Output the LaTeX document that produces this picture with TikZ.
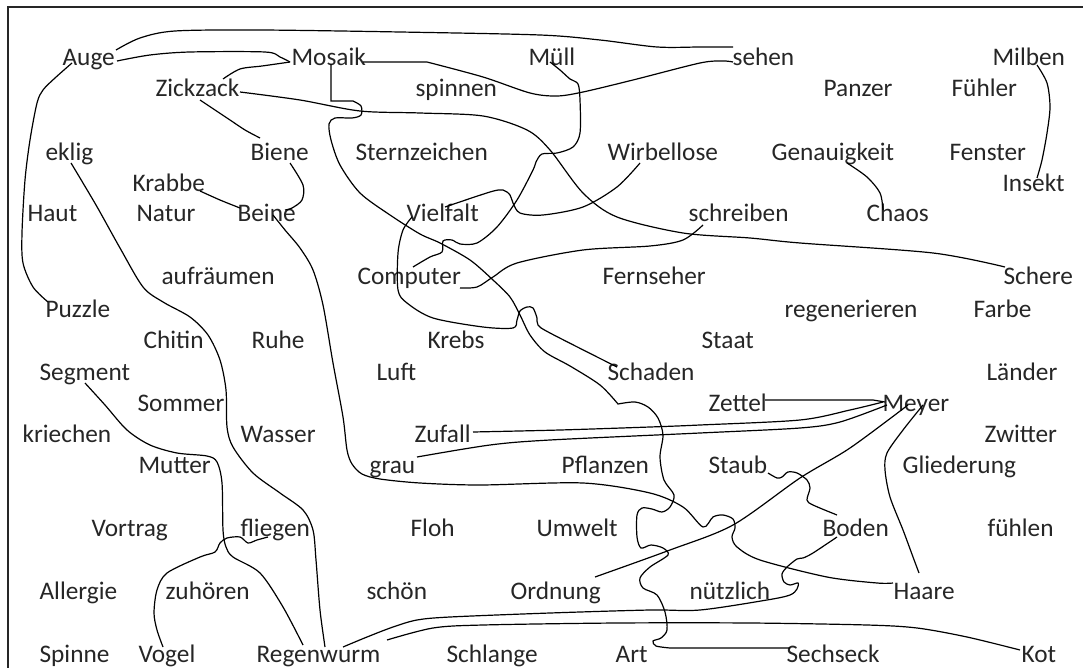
\documentclass[tikz,border=0pt]{standalone}
\usepackage{fontspec}
\setmainfont{Carlito}
\usetikzlibrary{calc}

\begin{document}
\begin{tikzpicture}[x=1pt, y=-1pt, line width=1.2pt, font=\fontsize{25.3}{30}\selectfont,
    every node/.style={anchor=base west, inner sep=0pt, text=black!85}]
\useasboundingbox (0,0) rectangle (1083,668);
\draw[line width=2pt, black!85] (8,668) -- (8,7) -- (1083,7);

\node (auge) at (62,66) {Auge}; \node (mosaik) at (291,66) {Mosaik}; \node (muell) at (528,66) {Müll}; \node (sehen) at (732,66) {sehen}; \node (milben) at (992,66) {Milben};
\node (zickzack) at (155,97) {Zickzack}; \node (spinnen) at (415,97) {spinnen}; \node (panzer) at (823,97) {Panzer}; \node (fuehler) at (951,97) {Fühler};
\node (eklig) at (45,161) {eklig}; \node (biene) at (250,161) {Biene}; \node (sternzeichen) at (355,161) {Sternzeichen}; \node (wirbellose) at (607,161) {Wirbellose}; \node (genauigkeit) at (771,161) {Genauigkeit}; \node (fenster) at (949,161) {Fenster};
\node (krabbe) at (132,192) {Krabbe}; \node (insekt) at (1002,192) {Insekt};
\node (haut) at (27,222) {Haut}; \node (natur) at (136,222) {Natur}; \node (beine) at (237,222) {Beine}; \node (vielfalt) at (406,222) {Vielfalt}; \node (schreiben) at (688,222) {schreiben}; \node (chaos) at (866,222) {Chaos};
\node (aufraeumen) at (161,284) {aufräumen}; \node (computer) at (357,284) {Computer}; \node (fernseher) at (602,284) {Fernseher}; \node (schere) at (1003,284) {Schere};
\node (puzzle) at (45,317) {Puzzle}; \node (regenerieren) at (784,317) {regenerieren}; \node (farbe) at (973,317) {Farbe};
\node (chitin) at (143,348) {Chitin}; \node (ruhe) at (251,348) {Ruhe}; \node (krebs) at (427,348) {Krebs}; \node (staat) at (701,348) {Staat};
\node (segment) at (39,380) {Segment}; \node (luft) at (376,380) {Luft}; \node (schaden) at (607,380) {Schaden}; \node (laender) at (986,380) {Länder};
\node (sommer) at (137,411) {Sommer}; \node (zettel) at (708,411) {Zettel}; \node (meyer) at (882,411) {Meyer};
\node (kriechen) at (22,442) {kriechen}; \node (wasser) at (240,442) {Wasser}; \node (zufall) at (414,442) {Zufall}; \node (zwitter) at (984,442) {Zwitter};
\node (mutter) at (138,473) {Mutter}; \node (grau) at (369,473) {grau}; \node (pflanzen) at (561,473) {Pflanzen}; \node (staub) at (708,473) {Staub}; \node (gliederung) at (902,473) {Gliederung};
\node (vortrag) at (91,536) {Vortrag}; \node (fliegen) at (240,536) {fliegen}; \node (floh) at (410,536) {Floh}; \node (umwelt) at (536,536) {Umwelt}; \node (boden) at (822,536) {Boden}; \node (fuehlen) at (987,536) {fühlen};
\node (allergie) at (39,599) {Allergie}; \node (zuhoeren) at (165,599) {zuhören}; \node (schoen) at (366,599) {schön}; \node (ordnung) at (510,599) {Ordnung}; \node (nuetzlich) at (689,599) {nützlich}; \node (haare) at (893,599) {Haare};
\node (spinne) at (39,662) {Spinne}; \node (vogel) at (138,662) {Vogel}; \node (regenwurm) at (256,662) {Regenwurm}; \node (schlange) at (446,662) {Schlange}; \node (art) at (615,662) {Art}; \node (sechseck) at (786,662) {Sechseck}; \node (kot) at (1021,662) {Kot};

\draw plot[smooth] coordinates {($(auge.base west)+(54,-16)$) (140,38) (175,31) (260,30) (400,32) (540,35) (600,40) (657,47) (700,47) ($(sehen.base west)+(1,-19)$)};
\draw plot[smooth] coordinates {($(auge.base west)+(55,-5)$) (150,55) (190,52) (265,52) (280,57) ($(mosaik.base west)+(-1,-4)$)};
\draw plot[smooth] coordinates {($(zickzack.base west)+(68,-18)$) (240,69) (262,66) ($(mosaik.base west)+(-1,-4)$)};
\draw ($(mosaik.base west)+(40,-2)$) -- (331,101) -- (353,101) -- plot[smooth] coordinates {(353,101) (361,106) (361,115) (352,118) (335,118) (329,124) (331,140) (340,165) (360,193) (390,215) (420,234) (440,243) (470,260) (493,280) (510,297) (520,315) (530,335) (545,352) (570,366) (600,385) (618,404)}
  -- plot[smooth] coordinates {(618,404) (635,402) (648,407) (658,418) (663,435) (660,457) (664,480) (674,495) (670,507) (662,512) (652,509) (642,508) (637,515) (637,537) (641,548) (651,545) (663,548) (668,555) (650,567) (640,578) (643,588) (657,595) (665,612) (667,630) (661,638) (653,641) (656,646) (670,648)} -- ($(sechseck.base west)+(4,-14)$);
\draw plot[smooth] coordinates {($(zickzack.base west)+(85,-5)$) (300,100) (360,111) (420,113) (483,116) (527,130) (550,150) (583,193) (617,217) (683,233) (750,238) (800,243) (933,253) ($(schere.base west)+(2,-17)$)};
\draw plot[smooth] coordinates {($(zickzack.base west)+(45,3)$) (230,120) (245,130) ($(biene.base west)+(10,-23)$)};
\draw plot[smooth] coordinates {($(biene.base west)+(40,2)$) (303,185) (302,200) (292,208) ($(beine.base west)+(48,-12)$)};
\draw plot[smooth] coordinates {($(krabbe.base west)+(68,-1)$) (220,200) ($(beine.base west)+(3,-14)$)};
\draw plot[smooth] coordinates {($(beine.base west)+(36,-7)$) (285,230) (300,248) (313,270) (323,305) (333,363) (343,417) (347,450) (352,464) (362,474) (380,479) (420,483) (480,485) (583,483) (650,493) (683,507) (703,527) (713,517) (723,515) (733,519) (735,528) (732,537) (737,547) (760,560) (827,577) (877,583) ($(haare.base west)+(0,-16)$)};
\draw plot[smooth] coordinates {($(eklig.base west)+(26,2)$) (96,205) (120,248) (143,287) (163,302) (190,317) (208,335) (220,360) (226,390) (227,427) (233,447) (253,473) (280,493) (303,510) (313,530) (316,560) (320,610) ($(regenwurm.base west)+(69,-15)$)};
\draw plot[smooth] coordinates {($(auge.base west)+(10,-3)$) (55,78) (43,90) (37,103) (30,140) (25,180) (22,233) (23,263) (33,287) ($(puzzle.base west)+(3,-15)$)};
\draw plot[smooth] coordinates {($(segment.base west)+(46,3)$) (105,405) (127,430) (150,445) (177,453) (207,456) (217,462) (222,483) (223,530) (226,547) (233,557) (260,573) (283,607) ($(regenwurm.base west)+(47,-17)$)};
\draw plot[smooth] coordinates {($(fliegen.base west)+(28,1)$) (257,540) (248,543) (240,537) (227,538) (220,543) (215,552) (200,557) (167,573) (157,590) (154,613) (157,630) ($(vogel.base west)+(25,-15)$)};
\draw ($(mosaik.base west)+(72,-4)$) -- (427,62) -- plot[smooth] coordinates {(427,62) (483,77) (530,93) (557,96) (583,92) (633,80) (700,63) (723,61) ($(sehen.base west)+(1,-4)$)};
\draw plot[smooth] coordinates {($(muell.base west)+(22,-4)$) (560,70) (570,79) (578,84) (580,100) (580,133) (573,147) (557,153) (542,154) (536,162) (533,170) (517,200) (497,227) (477,243) (460,244) (452,240) (443,241) (442,252) (430,257) ($(computer.base west)+(56,-17)$)};
\draw plot[smooth] coordinates {($(wirbellose.base west)+(33,2)$) (617,187) (583,207) (543,215) (520,213) (513,203) (510,195) (503,190) (490,192) ($(vielfalt.base west)+(39,-15)$)};
\draw plot[smooth] coordinates {($(schreiben.base west)+(15,3)$) (683,240) (650,246) (583,250) (517,263) (493,277) (477,287) ($(computer.base west)+(103,4)$)};
\draw plot[smooth] coordinates {($(vielfalt.base west)+(6,-5)$) (403,230) (398,253) (398,290) (407,303) (433,318) (483,327) (513,328) (517,320) (520,311) (527,307) (533,308) (537,318) (538,325) (550,333) ($(schaden.base west)+(10,-13)$)};
\draw plot[smooth] coordinates {($(genauigkeit.base west)+(76,2)$) (867,177) (880,193) ($(chaos.base west)+(17,-12)$)};
\draw plot[smooth] coordinates {($(milben.base west)+(45,-1)$) (1047,83) (1050,107) (1047,133) (1042,160) ($(insekt.base west)+(35,-14)$)};
\draw ($(zettel.base west)+(57,-11)$) -- (873,400) -- ($(meyer.base west)+(3,-9)$);
\draw plot[smooth] coordinates {($(zufall.base west)+(59,-10)$) (560,430) (650,427) (700,425) (800,420) (850,410) ($(meyer.base west)+(1,-9)$)};
\draw plot[smooth] coordinates {($(grau.base west)+(48,-16)$) (490,445) (550,440) (700,433) (800,428) (840,422) ($(meyer.base west)+(5,-6)$)};
\draw plot[smooth] coordinates {($(meyer.base west)+(26,-6)$) (850,448) (800,478) (733,525) (670,550) ($(ordnung.base west)+(85,-22)$)};
\draw plot[smooth] coordinates {($(meyer.base west)+(41,-6)$) (903,430) (887,453) (885,470) (890,497) (903,530) (913,557) ($(haare.base west)+(26,-26)$)};
\draw plot[smooth] coordinates {($(staub.base west)+(60,0)$) (777,478) (782,477) (788,472) (797,473) (807,480) (810,488) (807,500) (813,505) ($(boden.base west)+(15,-21)$)};
\draw plot[smooth] coordinates {($(boden.base west)+(15,1)$) (813,553) (803,558) (797,559) (787,567) (782,574) (784,582) (790,585) (798,583) (797,589) (790,595) (767,600) (700,610) (650,610) (550,613) (450,617) (417,620) (393,627) (367,637) ($(regenwurm.base west)+(87,-15)$)};
\draw plot[smooth] coordinates {($(kot.base west)+(-1,-12)$) (967,637) (917,628) (867,625) (750,623) (617,623) (483,625) (433,628) ($(schlange.base west)+(-59,-22)$)};
\end{tikzpicture}
\end{document}
